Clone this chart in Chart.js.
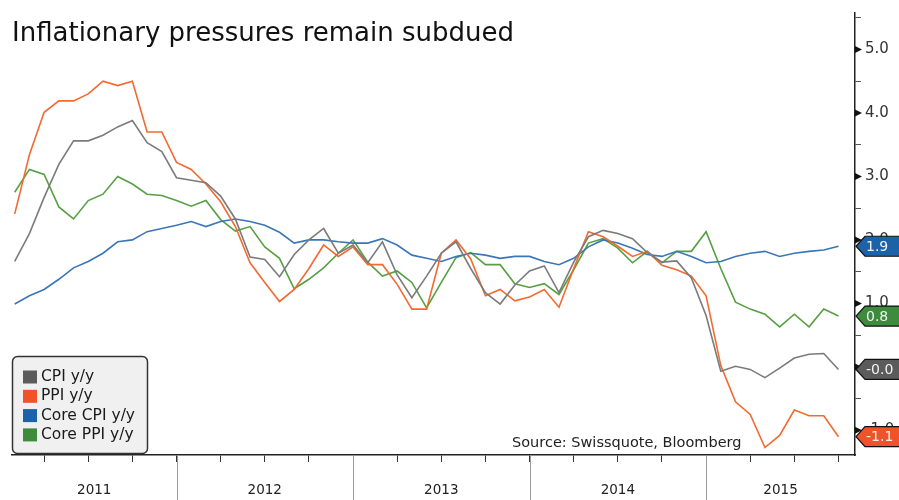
<!DOCTYPE html>
<html>
<head>
<meta charset="utf-8">
<title>Inflationary pressures remain subdued</title>
<script src="https://cdn.jsdelivr.net/npm/chart.js@4.4.0/dist/chart.umd.min.js"></script>
<style>
  html, body { margin: 0; padding: 0; background: #fff; }
  #chart { display: block; }
</style>
</head>
<body>
<canvas id="chart" width="899" height="500"></canvas>
<script>
const title = 'Inflationary pressures remain subdued';
const source = 'Source: Swissquote, Bloomberg';
const years = ['2011', '2012', '2013', '2014', '2015'];

// monthly y/y readings, Jan 2011 - Sep 2015
const cpi = [
  1.66, 2.10, 2.67, 3.19, 3.56, 3.56, 3.65, 3.78, 3.88, 3.53,
  3.39, 2.98, 2.94, 2.90, 2.69, 2.33, 1.73, 1.69, 1.42, 1.77,
  2.00, 2.18, 1.79, 1.92, 1.64, 1.97, 1.45, 1.09, 1.43, 1.79,
  1.97, 1.55, 1.17, 0.99, 1.29, 1.51, 1.59, 1.17, 1.65, 2.05,
  2.15, 2.10, 2.02, 1.80, 1.65, 1.67, 1.40, 0.81, -0.07, 0.01,
  -0.04, -0.17, -0.02, 0.14, 0.20, 0.21, -0.04
];
const ppi = [
  2.41, 3.34, 4.01, 4.19, 4.19, 4.30, 4.50, 4.43, 4.50, 3.70,
  3.70, 3.22, 3.11, 2.88, 2.60, 2.21, 1.64, 1.33, 1.03, 1.22,
  1.55, 1.92, 1.74, 1.89, 1.61, 1.61, 1.30, 0.91, 0.91, 1.79,
  2.00, 1.70, 1.12, 1.22, 1.04, 1.10, 1.22, 0.94, 1.55, 2.13,
  2.05, 1.90, 1.74, 1.82, 1.60, 1.53, 1.43, 1.12, 0.02, -0.55,
  -0.75, -1.27, -1.08, -0.68, -0.77, -0.77, -1.10
];
const coreCpi = [
  0.99, 1.12, 1.22, 1.38, 1.56, 1.66, 1.79, 1.97, 2.00, 2.13,
  2.18, 2.23, 2.29, 2.21, 2.29, 2.33, 2.29, 2.23, 2.12, 1.95,
  2.00, 2.00, 1.97, 1.95, 1.95, 2.02, 1.92, 1.76, 1.71, 1.66,
  1.74, 1.79, 1.76, 1.71, 1.74, 1.74, 1.66, 1.61, 1.71, 1.89,
  2.00, 1.95, 1.87, 1.77, 1.74, 1.82, 1.74, 1.64, 1.66, 1.74,
  1.79, 1.82, 1.74, 1.79, 1.82, 1.84, 1.90
];
const corePpi = [
  2.75, 3.11, 3.03, 2.52, 2.33, 2.62, 2.72, 3.00, 2.88, 2.72,
  2.70, 2.62, 2.53, 2.62, 2.32, 2.14, 2.21, 1.89, 1.71, 1.23,
  1.38, 1.56, 1.79, 2.00, 1.65, 1.43, 1.51, 1.33, 0.93, 1.33,
  1.72, 1.80, 1.61, 1.61, 1.31, 1.25, 1.31, 1.14, 1.53, 1.95,
  2.02, 1.87, 1.64, 1.82, 1.64, 1.82, 1.82, 2.13, 1.55, 1.02,
  0.91, 0.83, 0.63, 0.83, 0.63, 0.91, 0.80
];

const FONT = '"DejaVu Sans", sans-serif';

// x is measured in months from the start of 2011, each reading sits at month end
let toPoints = function (arr) {
  return arr.map((v, i) => ({ x: i + 1, y: v }));
};

let series = [
  { label: 'CPI y/y', data: cpi, line: '#7b7b7b', tag: '#5b5b5b' },
  { label: 'PPI y/y', data: ppi, line: '#f26a30', tag: '#f0522a' },
  { label: 'Core CPI y/y', data: coreCpi, line: '#3b76b6', tag: '#1c62a8' },
  { label: 'Core PPI y/y', data: corePpi, line: '#56a043', tag: '#3d8b3d' }
];

const decor = {
  id: 'decor',
  beforeDraw(chart) {
    const c = chart.ctx;
    c.save();
    c.fillStyle = '#fff';
    c.fillRect(0, 0, chart.width, chart.height);
    c.restore();
  },
  afterDraw(chart) {
    const c = chart.ctx;
    const xs = chart.scales.x;
    const ys = chart.scales.y;
    const area = chart.chartArea;
    c.save();

    // title
    c.fillStyle = '#111';
    c.font = '26px ' + FONT;
    c.textAlign = 'left';
    c.textBaseline = 'alphabetic';
    c.fillText(title, 12, 41);

    // year separators and labels
    c.strokeStyle = '#9a9a9a';
    c.lineWidth = 1;
    c.font = '13.5px ' + FONT;
    c.fillStyle = '#222';
    c.textAlign = 'center';
    c.textBaseline = 'middle';
    years.forEach((yr, k) => {
      let x0 = xs.getPixelForValue(12 * k);
      let x1 = xs.getPixelForValue(12 * (k + 1));
      if (k > 0) {
        c.beginPath();
        c.moveTo(Math.round(x0) + 0.5, area.bottom);
        c.lineTo(Math.round(x0) + 0.5, chart.height);
        c.stroke();
      }
      let a = Math.max(x0, area.left);
      let b = Math.min(x1, area.right);
      c.fillText(yr, (a + b) / 2, 490);
    });

    // arrow heads on the whole-number ticks
    c.fillStyle = '#111';
    ys.ticks.forEach(t => {
      if (Number.isInteger(t.value)) {
        let y = ys.getPixelForValue(t.value);
        c.beginPath();
        c.moveTo(area.right, y - 3.5);
        c.lineTo(area.right + 7, y);
        c.lineTo(area.right, y + 3.5);
        c.closePath();
        c.fill();
      }
    });

    // legend box
    c.beginPath();
    c.roundRect(12.5, 356.5, 135, 97, 5);
    c.fillStyle = '#f0f0f0';
    c.fill();
    c.strokeStyle = '#333';
    c.lineWidth = 1.5;
    c.stroke();
    c.font = '15.5px ' + FONT;
    c.textAlign = 'left';
    c.textBaseline = 'middle';
    series.forEach((s, i) => {
      let cy = 377 + i * 19.3;
      c.fillStyle = s.tag;
      c.fillRect(23, cy - 6.5, 14, 13);
      c.fillStyle = '#1a1a1a';
      c.fillText(s.label, 41, cy);
    });

    // source note
    c.fillStyle = '#222';
    c.font = '14.5px ' + FONT;
    c.textBaseline = 'alphabetic';
    c.fillText(source, 512, 447);

    // last value tags on the right axis
    series.forEach(s => {
      let v = s.data[s.data.length - 1];
      let y = ys.getPixelForValue(v);
      let x = area.right + 1;
      c.beginPath();
      c.moveTo(x, y);
      c.lineTo(x + 9, y - 10);
      c.lineTo(chart.width + 2, y - 10);
      c.lineTo(chart.width + 2, y + 10);
      c.lineTo(x + 9, y + 10);
      c.closePath();
      c.fillStyle = s.tag;
      c.fill();
      c.strokeStyle = '#111';
      c.lineWidth = 1.2;
      c.stroke();
      c.fillStyle = '#f2f2f2';
      c.font = '14px ' + FONT;
      c.textAlign = 'left';
      c.textBaseline = 'middle';
      c.fillText(v.toFixed(1), x + 10, y + 1);
    });

    c.restore();
  }
};

const ctx = document.getElementById('chart');
const myChart = new Chart(ctx, {
  type: 'line',
  data: {
    datasets: series.map(s => ({
      label: s.label,
      data: toPoints(s.data),
      borderColor: s.line,
      backgroundColor: s.line,
      borderWidth: 1.6,
      pointRadius: 0,
      tension: 0,
      fill: false
    }))
  },
  options: {
    responsive: false,
    animation: false,
    events: [],
    layout: { padding: { top: 6, left: 12, right: 0, bottom: 0 } },
    plugins: {
      legend: { display: false },
      tooltip: { enabled: false },
      title: { display: false }
    },
    scales: {
      x: {
        type: 'linear',
        min: 12 / 14.71,
        max: 855 / 14.71,
        border: { color: '#222', width: 1.5 },
        grid: { drawOnChartArea: false, tickLength: 7, color: '#333' },
        ticks: { display: false },
        afterBuildTicks: scale => {
          let t = [];
          for (let m = 3; m < 58; m += 3) t.push({ value: m });
          scale.ticks = t;
        },
        afterFit: scale => { scale.height = 45; }
      },
      y: {
        position: 'right',
        min: -1.388,
        max: 5.574,
        border: { color: '#222', width: 1.5 },
        grid: {
          drawOnChartArea: false,
          tickLength: 6,
          tickColor: c => Number.isInteger(c.tick.value) ? 'rgba(0,0,0,0)' : '#555'
        },
        ticks: {
          padding: 4,
          color: '#333',
          font: { family: FONT, size: 15 },
          callback: v => Number.isInteger(v) ? v.toFixed(1) : ''
        },
        afterBuildTicks: scale => {
          let t = [];
          for (let v = -1; v <= 5.5; v += 0.5) t.push({ value: v });
          scale.ticks = t;
        },
        afterFit: scale => { scale.width = 44; }
      }
    }
  },
  plugins: [decor]
});
</script>
</body>
</html>
